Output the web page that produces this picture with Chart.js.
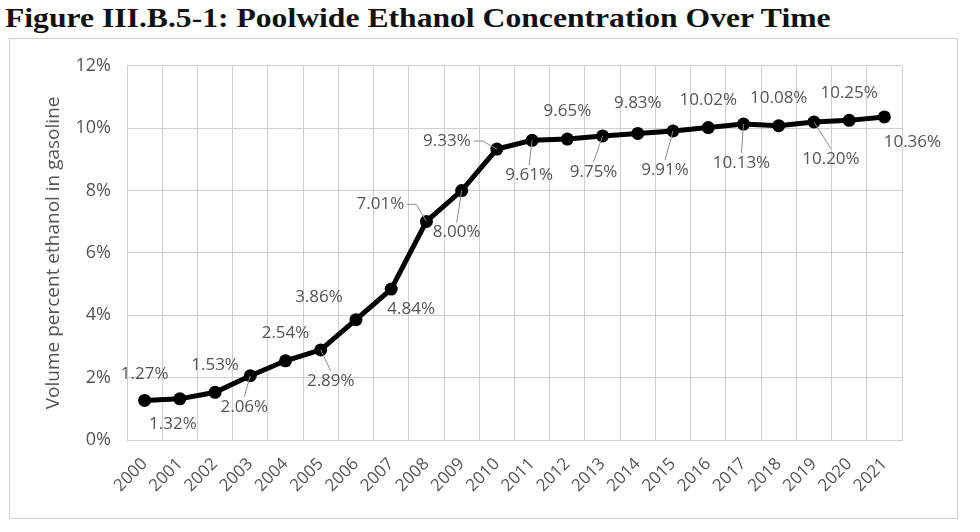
<html>
  <head>
    <script src="https://cdn.jsdelivr.net/npm/chart.js@4.4.1/dist/chart.umd.min.js"></script>
    <style>
      body {
        margin: 0;
        background: #fff;
        width: 980px;
        height: 532px;
        overflow: hidden;
      }
      .title {
        position: absolute;
        left: 5px;
        top: 2px;
        font-family: "Liberation Serif", "Times New Roman", serif;
        font-weight: bold;
        font-size: 28px;
        color: #111;
        white-space: nowrap;
        transform: scaleX(1.13);
        transform-origin: left top;
      }
      .frame {
        position: absolute;
        left: 9px;
        top: 38px;
        width: 947px;
        height: 479px;
        border: 1px solid #d0d0d0;
      }
    </style>
  </head>

  <body>
    <div class="title">Figure III.B.5-1: Poolwide Ethanol Concentration Over Time</div>
    <div class="frame"><canvas id="chart"></canvas></div>

    <script>
      const years = [
        "2000", "2001", "2002", "2003", "2004", "2005", "2006", "2007",
        "2008", "2009", "2010", "2011", "2012", "2013", "2014", "2015",
        "2016", "2017", "2018", "2019", "2020", "2021",
      ];
      const ethanol_pct = [
        1.27, 1.32, 1.53, 2.06, 2.54, 2.89, 3.86, 4.84, 7.01, 8.0, 9.33,
        9.61, 9.65, 9.75, 9.83, 9.91, 10.02, 10.13, 10.08, 10.2, 10.25, 10.36,
      ];
      const y_min = 0;
      const y_max = 12;
      const y_step = 2;

      const text_gray = "#555555";
      const grid_gray = "#cfcfcf";
      const font_family = "'Open Sans', 'Noto Sans', sans-serif";

      // label placement (dx, dy from the point, leader line yes/no), Excel style
      const label_nudge = [
        [0, -26, 0], [-7, 25, 0], [0, -27, 0], [-6, 31, 1], [0, -28, 0],
        [10, 31, 1], [-37, -22, 0], [20, 20, 0], [-46, -17, 1], [-5, 42, 1],
        [-50, -8, 1], [-3, 35, 1], [0, -28, 0], [-9, 36, 1], [0, -30, 0],
        [-8, 39, 1], [0, -27, 0], [-2, 39, 1], [0, -28, 0], [17, 37, 1],
        [0, -27, 0], [28, 25, 0],
      ];

      const data_labels = {
        id: "data_labels",
        afterDatasetsDraw: (chart) => {
          const ctx = chart.ctx;
          const meta = chart.getDatasetMeta(0);
          ctx.save();
          ctx.font = `17px ${font_family}`;
          ctx.textAlign = "center";
          ctx.textBaseline = "middle";
          meta.data.forEach((pt, i) => {
            const [dx, dy, leader] = label_nudge[i];
            const text = ethanol_pct[i].toFixed(2) + "%";
            const cx = pt.x + dx;
            const cy = pt.y + dy;
            if (leader) {
              const w = ctx.measureText(text).width;
              ctx.strokeStyle = "#8c8c8c";
              ctx.lineWidth = 1;
              ctx.beginPath();
              if (dx < -30) {
                // elbow from the right side of the label
                ctx.moveTo(cx + w / 2 + 3, cy);
                ctx.lineTo(cx + w / 2 + 12, cy);
              } else {
                ctx.moveTo(cx, dy > 0 ? cy - 10 : cy + 10);
              }
              ctx.lineTo(pt.x, pt.y);
              ctx.stroke();
            }
            ctx.fillStyle = text_gray;
            ctx.fillText(text, cx, cy);
          });
          ctx.restore();
        },
      };

      const cfg = {
        type: "line",
        data: {
          labels: years,
          datasets: [
            {
              data: ethanol_pct,
              borderColor: "#000",
              backgroundColor: "#000",
              borderWidth: 5,
              pointRadius: 6.5,
              pointBackgroundColor: "#000",
              pointBorderWidth: 0,
              tension: 0,
            },
          ],
        },
        options: {
          responsive: true,
          maintainAspectRatio: false,
          animation: false,
          layout: { padding: { top: 24, right: 55, left: 0, bottom: 0 } },
          plugins: {
            legend: { display: false },
            tooltip: { enabled: false },
          },
          scales: {
            x: {
              type: "category",
              offset: true,
              grid: { offset: true, color: grid_gray, drawTicks: false },
              border: { color: grid_gray },
              ticks: {
                color: text_gray,
                font: { family: font_family, size: 17 },
                maxRotation: 45,
                minRotation: 45,
                padding: 14,
                autoSkip: false,
              },
              afterFit: (scale) => {
                scale.height = 78;
              },
            },
            y: {
              min: y_min,
              max: y_max,
              ticks: {
                stepSize: y_step,
                color: text_gray,
                font: { family: font_family, size: 18 },
                padding: 16,
                callback: (v) => v + "%",
              },
              grid: { color: grid_gray, drawTicks: false },
              border: { color: grid_gray },
              title: {
                display: true,
                text: "Volume percent ethanol in gasoline",
                color: text_gray,
                font: { family: font_family, size: 19 },
                padding: { top: 32, bottom: 0 },
              },
              afterFit: (scale) => {
                scale.width = 117;
              },
            },
          },
        },
        plugins: [data_labels],
      };

      new Chart(document.querySelector("#chart").getContext("2d"), cfg);
    </script>
  </body>
</html>
